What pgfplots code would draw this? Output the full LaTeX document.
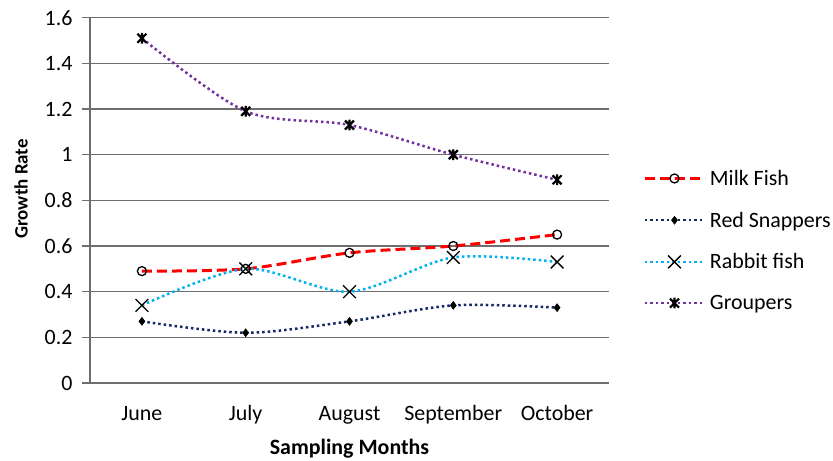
\documentclass[border=0pt]{standalone}
\usepackage{fontspec}
\setmainfont{Carlito}
\usepackage{pgfplots}
\pgfplotsset{compat=1.18}
\definecolor{gridgray}{RGB}{110,110,110}
\definecolor{milkred}{RGB}{255,0,0}
\definecolor{snapnavy}{RGB}{20,40,100}
\definecolor{rabbitblue}{RGB}{0,176,240}
\definecolor{grouppurple}{RGB}{112,48,160}
\pgfdeclareplotmark{xstar}{%
  \pgfpathmoveto{\pgfqpoint{-\pgfplotmarksize}{-\pgfplotmarksize}}%
  \pgfpathlineto{\pgfqpoint{\pgfplotmarksize}{\pgfplotmarksize}}%
  \pgfpathmoveto{\pgfqpoint{-\pgfplotmarksize}{\pgfplotmarksize}}%
  \pgfpathlineto{\pgfqpoint{\pgfplotmarksize}{-\pgfplotmarksize}}%
  \pgfpathmoveto{\pgfqpoint{0pt}{-1.2\pgfplotmarksize}}%
  \pgfpathlineto{\pgfqpoint{0pt}{1.2\pgfplotmarksize}}%
  \pgfusepathqstroke}
\begin{document}
\begin{tikzpicture}
\useasboundingbox (0,0) rectangle (833bp,461bp);
\begin{axis}[
  at={(90bp,78bp)}, anchor=south west, scale only axis,
  width=519bp, height=365.3bp,
  xmin=-0.5, xmax=4.5, ymin=0, ymax=1.6,
  xtick={0,1,2,3,4},
  xticklabels={June,July,August,September,October},
  ytick={0,0.2,0.4,0.6,0.8,1,1.2,1.4,1.6},
  yticklabels={0,0.2,0.4,0.6,0.8,1,1.2,1.4,1.6},
  separate axis lines,
  axis x line*=bottom, axis y line*=left,
  axis line style={-, draw=gridgray, line width=1.3bp},
  ymajorgrids, major grid style={draw=gridgray, line width=1.3bp},
  tick align=outside,
  major tick length=8bp,
  xtick style={draw=none},
  ytick style={draw=gridgray, line width=1.3bp},
  tick label style={font=\fontsize{22}{26}\selectfont, text=black},
  /pgf/number format/assume math mode=true,
  xticklabel style={anchor=base, yshift=-29bp},
  yticklabel style={anchor=east, xshift=-6bp},
  xlabel={Sampling Months},
  xlabel style={font=\bfseries\fontsize{22}{26}\selectfont, at={(axis description cs:0.5,-0.18)}, anchor=center},
  ylabel={Growth Rate},
  ylabel style={font=\bfseries\fontsize{19}{22}\selectfont, at={(axis description cs:-0.133,0.531)}, anchor=center},
  legend style={draw=none, fill=none, inner sep=0pt, outer sep=0pt,
    at={(1.0655,0.390)}, anchor=west,
    font=\fontsize{22}{26}\selectfont,
    cells={anchor=west}, row sep=21bp, column sep=2bp},
  legend image code/.code={\draw[mark repeat=2,mark phase=2,#1] plot coordinates {(0bp,0bp) (30bp,0bp) (60bp,0bp)};},
  clip=false,
]
\addplot[milkred, line width=3bp, dash pattern=on 10bp off 5bp, smooth,
  mark=o, mark size=4.5bp, mark options={solid, draw=black, fill=white, line width=1.3bp}]
  coordinates {(0,0.49) (1,0.50) (2,0.57) (3,0.60) (4,0.65)};
\addlegendentry{Milk Fish}
\addplot[snapnavy, line width=2.5bp, dash pattern=on 2.5bp off 3bp, smooth,
  mark=diamond*, mark size=4bp, mark options={solid, draw=black, fill=black, line width=0.5bp}]
  coordinates {(0,0.27) (1,0.22) (2,0.27) (3,0.34) (4,0.33)};
\addlegendentry{Red Snappers}
\addplot[rabbitblue, line width=2.5bp, dash pattern=on 2.5bp off 3bp, smooth,
  mark=x, mark size=9bp, mark options={solid, draw=black, line width=1.3bp}]
  coordinates {(0,0.34) (1,0.50) (2,0.40) (3,0.55) (4,0.53)};
\addlegendentry{Rabbit fish}
\addplot[grouppurple, line width=2.5bp, dash pattern=on 2.5bp off 3bp, smooth,
  mark=xstar, mark size=4.5bp, mark options={solid, draw=black, line width=2.2bp}]
  coordinates {(0,1.51) (1,1.19) (2,1.13) (3,1.00) (4,0.89)};
\addlegendentry{Groupers}
\end{axis}
\end{tikzpicture}
\end{document}
